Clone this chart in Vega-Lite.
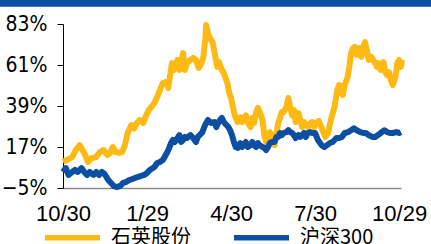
{
  "$schema": "https://vega.github.io/schema/vega-lite/v6.json",
  "width": 338,
  "height": 164,
  "autosize": {"type": "none"},
  "padding": {"left": 63, "top": 24, "right": 30, "bottom": 56},
  "background": "white",
  "datasets": {
    "series": [
      {"d":0,"s":"石英股份","v":9},{"d":4,"s":"石英股份","v":10},{"d":10,"s":"石英股份","v":11.6},{"d":14,"s":"石英股份","v":15.4},{"d":18,"s":"石英股份","v":18},{"d":23,"s":"石英股份","v":13.8},{"d":27,"s":"石英股份","v":9},{"d":31,"s":"石英股份","v":11},{"d":36,"s":"石英股份","v":11.6},{"d":40,"s":"石英股份","v":14.3},{"d":44,"s":"石英股份","v":15.4},{"d":48,"s":"石英股份","v":12.7},{"d":51,"s":"石英股份","v":13.8},{"d":54,"s":"石英股份","v":17},{"d":57,"s":"石英股份","v":14.3},{"d":61,"s":"石英股份","v":13.8},{"d":64,"s":"石英股份","v":14.3},{"d":67,"s":"石英股份","v":18},{"d":70,"s":"石英股份","v":24.5},{"d":74,"s":"石英股份","v":28.8},{"d":77,"s":"石英股份","v":27},{"d":80,"s":"石英股份","v":29.9},{"d":83,"s":"石英股份","v":31.5},{"d":87,"s":"石英股份","v":29.9},{"d":90,"s":"石英股份","v":34},{"d":93,"s":"石英股份","v":36.9},{"d":95,"s":"石英股份","v":38},{"d":99,"s":"石英股份","v":40.6},{"d":102,"s":"石英股份","v":43.8},{"d":105,"s":"石英股份","v":47.6},{"d":108,"s":"石英股份","v":51.3},{"d":112,"s":"石英股份","v":51.9},{"d":114,"s":"石英股份","v":48.7},{"d":116,"s":"石英股份","v":55.6},{"d":118,"s":"石英股份","v":62},{"d":120,"s":"石英股份","v":58.3},{"d":124,"s":"石英股份","v":63.7},{"d":126,"s":"石英股份","v":58.3},{"d":128,"s":"石英股份","v":62.6},{"d":130,"s":"石英股份","v":67.4},{"d":132,"s":"石英股份","v":58.3},{"d":134,"s":"石英股份","v":62},{"d":138,"s":"石英股份","v":63.7},{"d":141,"s":"石英股份","v":64.8},{"d":144,"s":"石英股份","v":63.7},{"d":147,"s":"石英股份","v":59.4},{"d":150,"s":"石英股份","v":62},{"d":152,"s":"石英股份","v":65.3},{"d":154,"s":"石英股份","v":74.4},{"d":155,"s":"石英股份","v":82.5},{"d":157,"s":"石英股份","v":78},{"d":159,"s":"石英股份","v":75.5},{"d":162,"s":"石英股份","v":73.3},{"d":165,"s":"石英股份","v":65.3},{"d":167,"s":"石英股份","v":60},{"d":169,"s":"石英股份","v":62.6},{"d":171,"s":"石英股份","v":59.4},{"d":174,"s":"石英股份","v":56.7},{"d":178,"s":"石英股份","v":51.3},{"d":180,"s":"石英股份","v":46},{"d":182,"s":"石英股份","v":43.3},{"d":184,"s":"石英股份","v":38.5},{"d":186,"s":"石英股份","v":34},{"d":189,"s":"石英股份","v":30.4},{"d":192,"s":"石英股份","v":33},{"d":194,"s":"石英股份","v":30.4},{"d":196,"s":"石英股份","v":31.5},{"d":198,"s":"石英股份","v":34},{"d":200,"s":"石英股份","v":30.4},{"d":203,"s":"石英股份","v":27.7},{"d":205,"s":"石英股份","v":32.6},{"d":207,"s":"石英股份","v":29.9},{"d":209,"s":"石英股份","v":35.2},{"d":211,"s":"石英股份","v":38},{"d":213,"s":"石英股份","v":35.8},{"d":216,"s":"石英股份","v":31.5},{"d":218,"s":"石英股份","v":23.4},{"d":220,"s":"石英股份","v":19.7},{"d":222,"s":"石英股份","v":23.4},{"d":224,"s":"石英股份","v":25},{"d":226,"s":"石英股份","v":22.4},{"d":229,"s":"石英股份","v":18},{"d":231,"s":"石英股份","v":23.4},{"d":233,"s":"石英股份","v":29.9},{"d":235,"s":"石英股份","v":32.6},{"d":237,"s":"石英股份","v":35.8},{"d":239,"s":"石英股份","v":35.8},{"d":242,"s":"石英股份","v":38.5},{"d":244,"s":"石英股份","v":43.3},{"d":246,"s":"石英股份","v":38.5},{"d":248,"s":"石英股份","v":34},{"d":250,"s":"石英股份","v":36.9},{"d":252,"s":"石英股份","v":30.4},{"d":255,"s":"石英股份","v":35.2},{"d":257,"s":"石英股份","v":31.5},{"d":259,"s":"石英股份","v":27.7},{"d":261,"s":"石英股份","v":30.4},{"d":263,"s":"石英股份","v":28.8},{"d":265,"s":"石英股份","v":27.7},{"d":268,"s":"石英股份","v":29.9},{"d":270,"s":"石英股份","v":30.4},{"d":272,"s":"石英股份","v":27.7},{"d":274,"s":"石英股份","v":30},{"d":277,"s":"石英股份","v":31},{"d":281,"s":"石英股份","v":26},{"d":284,"s":"石英股份","v":22.4},{"d":287,"s":"石英股份","v":24.5},{"d":290,"s":"石英股份","v":31.5},{"d":294,"s":"石英股份","v":38.5},{"d":297,"s":"石英股份","v":47.6},{"d":299,"s":"石英股份","v":50.3},{"d":301,"s":"石英股份","v":46.5},{"d":303,"s":"石英股份","v":44.9},{"d":305,"s":"石英股份","v":50.3},{"d":308,"s":"石英股份","v":54},{"d":310,"s":"石英股份","v":60},{"d":312,"s":"石英股份","v":67.4},{"d":314,"s":"石英股份","v":70.1},{"d":316,"s":"石英股份","v":70.7},{"d":318,"s":"石英股份","v":66.4},{"d":321,"s":"石英股份","v":70.1},{"d":323,"s":"石英股份","v":65.3},{"d":325,"s":"石英股份","v":70.1},{"d":327,"s":"石英股份","v":73.3},{"d":329,"s":"石英股份","v":69},{"d":331,"s":"石英股份","v":63.7},{"d":334,"s":"石英股份","v":65.3},{"d":336,"s":"石英股份","v":63.7},{"d":338,"s":"石英股份","v":62},{"d":340,"s":"石英股份","v":60},{"d":342,"s":"石英股份","v":62},{"d":344,"s":"石英股份","v":58.3},{"d":347,"s":"石英股份","v":62.6},{"d":349,"s":"石英股份","v":57.2},{"d":351,"s":"石英股份","v":55.6},{"d":353,"s":"石英股份","v":57.2},{"d":355,"s":"石英股份","v":53},{"d":357,"s":"石英股份","v":50.3},{"d":360,"s":"石英股份","v":54.6},{"d":362,"s":"石英股份","v":62},{"d":364,"s":"石英股份","v":63.7},{"d":366,"s":"石英股份","v":60},{"d":367,"s":"石英股份","v":63.7},
      {"d":0,"s":"沪深300","v":3.6},{"d":3,"s":"沪深300","v":5.7},{"d":6,"s":"沪深300","v":2},{"d":10,"s":"沪深300","v":3.6},{"d":13,"s":"沪深300","v":4.7},{"d":16,"s":"沪深300","v":3.6},{"d":20,"s":"沪深300","v":5.7},{"d":23,"s":"沪深300","v":3.6},{"d":26,"s":"沪深300","v":2},{"d":29,"s":"沪深300","v":3.6},{"d":33,"s":"沪深300","v":2},{"d":36,"s":"沪深300","v":3.6},{"d":39,"s":"沪深300","v":2},{"d":42,"s":"沪深300","v":3.6},{"d":45,"s":"沪深300","v":2.5},{"d":49,"s":"沪深300","v":-0.7},{"d":52,"s":"沪深300","v":-2.3},{"d":55,"s":"沪深300","v":-3.9},{"d":58,"s":"沪深300","v":-4.5},{"d":62,"s":"沪深300","v":-3.9},{"d":65,"s":"沪深300","v":-2.3},{"d":68,"s":"沪深300","v":-1.8},{"d":72,"s":"沪深300","v":-0.7},{"d":75,"s":"沪深300","v":-0.2},{"d":78,"s":"沪深300","v":0.4},{"d":81,"s":"沪深300","v":0.9},{"d":84,"s":"沪深300","v":1.4},{"d":88,"s":"沪深300","v":2},{"d":91,"s":"沪深300","v":3},{"d":94,"s":"沪深300","v":4.7},{"d":99,"s":"沪深300","v":6.3},{"d":102,"s":"沪深300","v":8.4},{"d":105,"s":"沪深300","v":9},{"d":108,"s":"沪深300","v":10},{"d":110,"s":"沪深300","v":11.6},{"d":113,"s":"沪深300","v":14.3},{"d":115,"s":"沪深300","v":16.5},{"d":117,"s":"沪深300","v":19.1},{"d":119,"s":"沪深300","v":20.8},{"d":121,"s":"沪深300","v":19.7},{"d":124,"s":"沪深300","v":21.8},{"d":126,"s":"沪深300","v":23.4},{"d":128,"s":"沪深300","v":19.7},{"d":130,"s":"沪深300","v":20.8},{"d":132,"s":"沪深300","v":22.4},{"d":134,"s":"沪深300","v":21.8},{"d":138,"s":"沪深300","v":23.4},{"d":141,"s":"沪深300","v":21.8},{"d":144,"s":"沪深300","v":19.7},{"d":146,"s":"沪深300","v":22.4},{"d":148,"s":"沪深300","v":23.4},{"d":151,"s":"沪深300","v":25},{"d":153,"s":"沪深300","v":27.7},{"d":155,"s":"沪深300","v":29.9},{"d":157,"s":"沪深300","v":31.5},{"d":159,"s":"沪深300","v":30.4},{"d":161,"s":"沪深300","v":29.9},{"d":164,"s":"沪深300","v":30.4},{"d":166,"s":"沪深300","v":27.7},{"d":168,"s":"沪深300","v":29.9},{"d":170,"s":"沪深300","v":31.5},{"d":172,"s":"沪深300","v":32.6},{"d":174,"s":"沪深300","v":30.4},{"d":177,"s":"沪深300","v":28.8},{"d":179,"s":"沪深300","v":27.7},{"d":181,"s":"沪深300","v":26},{"d":183,"s":"沪深300","v":23.4},{"d":185,"s":"沪深300","v":19.7},{"d":187,"s":"沪深300","v":17},{"d":189,"s":"沪深300","v":16.5},{"d":192,"s":"沪深300","v":19.1},{"d":194,"s":"沪深300","v":17},{"d":196,"s":"沪深300","v":18},{"d":198,"s":"沪深300","v":19.7},{"d":200,"s":"沪深300","v":17},{"d":203,"s":"沪深300","v":18},{"d":205,"s":"沪深300","v":19.7},{"d":207,"s":"沪深300","v":18},{"d":209,"s":"沪深300","v":17},{"d":211,"s":"沪深300","v":19.1},{"d":213,"s":"沪深300","v":18},{"d":216,"s":"沪深300","v":17},{"d":218,"s":"沪深300","v":16.5},{"d":220,"s":"沪深300","v":15.4},{"d":222,"s":"沪深300","v":17},{"d":224,"s":"沪深300","v":19.1},{"d":226,"s":"沪深300","v":19.7},{"d":229,"s":"沪深300","v":19.7},{"d":231,"s":"沪深300","v":22.4},{"d":233,"s":"沪深300","v":22.4},{"d":235,"s":"沪深300","v":24.5},{"d":237,"s":"沪深300","v":23.4},{"d":239,"s":"沪深300","v":24.5},{"d":242,"s":"沪深300","v":25},{"d":244,"s":"沪深300","v":26},{"d":246,"s":"沪深300","v":25},{"d":248,"s":"沪深300","v":24.5},{"d":250,"s":"沪深300","v":23.4},{"d":252,"s":"沪深300","v":21.8},{"d":255,"s":"沪深300","v":23.4},{"d":257,"s":"沪深300","v":22.4},{"d":259,"s":"沪深300","v":23.4},{"d":261,"s":"沪深300","v":24.5},{"d":263,"s":"沪深300","v":22.4},{"d":265,"s":"沪深300","v":24.5},{"d":268,"s":"沪深300","v":25},{"d":270,"s":"沪深300","v":24.5},{"d":273,"s":"沪深300","v":24.5},{"d":276,"s":"沪深300","v":20.8},{"d":280,"s":"沪深300","v":18},{"d":283,"s":"沪深300","v":17},{"d":286,"s":"沪深300","v":18},{"d":289,"s":"沪深300","v":19.1},{"d":292,"s":"沪深300","v":19.7},{"d":296,"s":"沪深300","v":21.8},{"d":299,"s":"沪深300","v":21.8},{"d":302,"s":"沪深300","v":22.4},{"d":305,"s":"沪深300","v":24.5},{"d":309,"s":"沪深300","v":25},{"d":312,"s":"沪深300","v":26},{"d":315,"s":"沪深300","v":27},{"d":318,"s":"沪深300","v":26},{"d":322,"s":"沪深300","v":25},{"d":325,"s":"沪深300","v":24.5},{"d":328,"s":"沪深300","v":24.5},{"d":331,"s":"沪深300","v":23.4},{"d":335,"s":"沪深300","v":22.4},{"d":338,"s":"沪深300","v":22.4},{"d":341,"s":"沪深300","v":23.4},{"d":344,"s":"沪深300","v":24.5},{"d":348,"s":"沪深300","v":26},{"d":351,"s":"沪深300","v":25},{"d":354,"s":"沪深300","v":24.5},{"d":357,"s":"沪深300","v":24.5},{"d":361,"s":"沪深300","v":25},{"d":364,"s":"沪深300","v":24.5},{"d":366,"s":"沪深300","v":25}
    ]
  },
  "layer": [
    {
      "data": {"values": [{}]},
      "mark": {"type": "rect", "color": "#0B4EA2"},
      "encoding": {
        "x": {"datum": -68.5, "type": "quantitative"},
        "x2": {"datum": 400},
        "y": {"datum": 96.5, "type": "quantitative"},
        "y2": {"datum": 92.2}
      }
    },
    {
      "data": {"name": "series"},
      "transform": [{"filter": "datum.s === '石英股份'"}],
      "mark": {"type": "line", "strokeWidth": 6, "strokeJoin": "round", "strokeCap": "butt"},
      "encoding": {
        "x": {"field": "d", "type": "quantitative"},
        "y": {"field": "v", "type": "quantitative"},
        "color": {"field": "s", "type": "nominal"}
      }
    },
    {
      "data": {"name": "series"},
      "transform": [{"filter": "datum.s === '沪深300'"}],
      "mark": {"type": "line", "strokeWidth": 6, "strokeJoin": "round", "strokeCap": "butt"},
      "encoding": {
        "x": {"field": "d", "type": "quantitative"},
        "y": {"field": "v", "type": "quantitative"},
        "color": {"field": "s", "type": "nominal"}
      }
    }
  ],
  "encoding": {
    "x": {
      "type": "quantitative",
      "scale": {"domain": [0, 366], "nice": false, "zero": false},
      "axis": {
        "title": null,
        "values": [0, 91, 182, 273, 364],
        "labelExpr": "datum.value == 0 ? '10/30' : datum.value == 91 ? '1/29' : datum.value == 182 ? '4/30' : datum.value == 273 ? '7/30' : '10/29'",
        "grid": false,
        "ticks": false,
        "domainColor": "#8c8c8c",
        "domainWidth": 1.5,
        "labelFont": "Liberation Sans",
        "labelFontSize": 22,
        "labelColor": "#000000",
        "labelPadding": 15,
        "labelFlush": false,
        "labelOverlap": false
      }
    },
    "y": {
      "type": "quantitative",
      "scale": {"domain": [-5, 83], "nice": false, "zero": false},
      "axis": {
        "title": null,
        "values": [-5, 17, 39, 61, 83],
        "labelExpr": "format(datum.value, 'd') + '%'",
        "grid": false,
        "ticks": true,
        "tickSize": 6,
        "tickColor": "#000000",
        "tickWidth": 1,
        "domainColor": "#000000",
        "domainWidth": 1,
        "labelFont": "Liberation Sans Narrow, Arial Narrow, DejaVu Sans Condensed, sans-serif",
        "labelFontSize": 21,
        "labelColor": "#000000",
        "labelPadding": 10,
        "labelFlush": false,
        "labelOverlap": false
      }
    },
    "color": {
      "type": "nominal",
      "scale": {"domain": ["石英股份", "沪深300"], "range": ["#FFB914", "#0B4EA2"]},
      "legend": {
        "title": null,
        "orient": "none",
        "direction": "horizontal",
        "legendX": -21,
        "legendY": 183,
        "symbolType": "stroke",
        "symbolSize": 3025,
        "symbolStrokeWidth": 5.5,
        "labelFont": "Noto Sans CJK SC",
        "labelFontSize": 20,
        "labelColor": "#000000",
        "labelOffset": 8,
        "columnPadding": 32,
        "labelLimit": 200
      }
    }
  },
  "config": {
    "view": {"stroke": null}
  }
}
